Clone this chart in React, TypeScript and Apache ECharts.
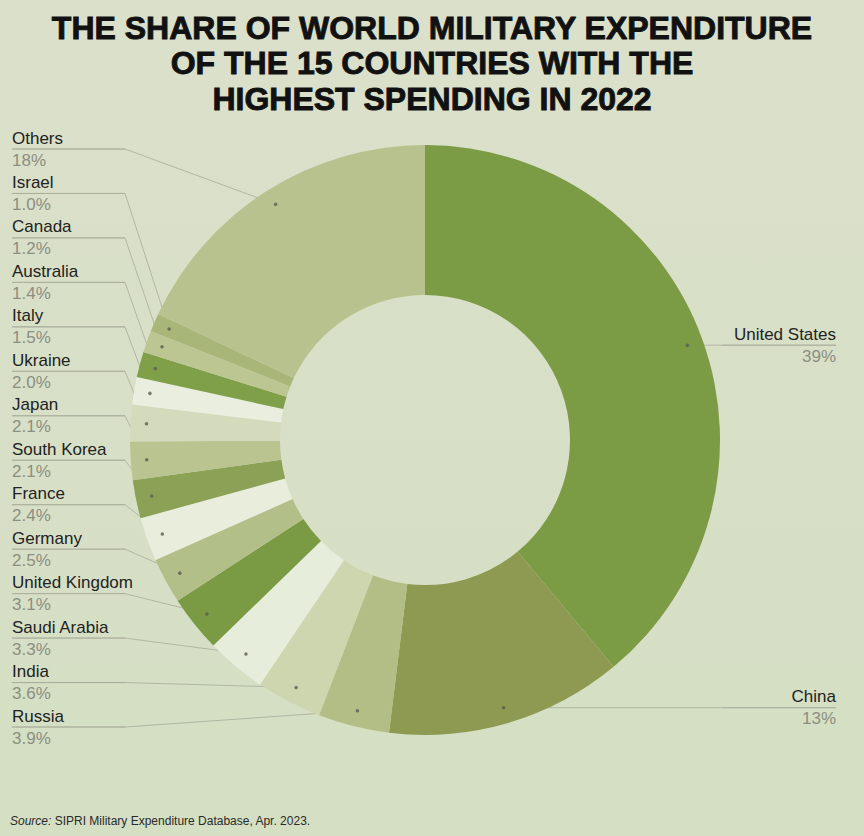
import React, { useEffect, useRef } from "react";
import * as echarts from "echarts";

const countries = [
  "United States", "China", "Russia", "India", "Saudi Arabia", "United Kingdom",
  "Germany", "France", "South Korea", "Japan", "Ukraine", "Italy", "Australia",
  "Canada", "Israel", "Others",
];
const shares = [39, 13, 3.9, 3.6, 3.3, 3.1, 2.5, 2.4, 2.1, 2.1, 2.0, 1.5, 1.4, 1.2, 1.0, 18];
const shareLabels = [
  "39%", "13%", "3.9%", "3.6%", "3.3%", "3.1%", "2.5%", "2.4%", "2.1%", "2.1%",
  "2.0%", "1.5%", "1.4%", "1.2%", "1.0%", "18%",
];
const sliceColors = [
  "#7b9b45", "#8e9a51", "#b2be86", "#cdd6af", "#e7eddb", "#7a9a44", "#b3bf88",
  "#e8eddc", "#8ba155", "#b9c490", "#d4dbbd", "#e9eedf", "#7fa048", "#bcc693",
  "#a9b67a", "#b7c28e",
];
const titleLines = [
  "THE SHARE OF WORLD MILITARY EXPENDITURE",
  "OF THE 15 COUNTRIES WITH THE",
  "HIGHEST SPENDING IN 2022",
];

const CX = 425;
const CY = 440;
const R_IN = 145;
const R_OUT = 295;
const DOT_R = 279;
const LABEL_W = 113;
const LEFT_X = 12;
const RIGHT_X = 836;
const LEFT_TOP = 149;
const LEFT_BOTTOM = 727;
const FONT = "'Liberation Sans', Arial, sans-serif";

export default function App() {
  const ref = useRef<HTMLDivElement>(null);
  useEffect(() => {
    if (!ref.current) return;
    const chart = echarts.init(ref.current, null, { renderer: "svg" });
    const total = shares.reduce((a, b) => a + b, 0);
    const mids: number[] = [];
    let acc = 0;
    shares.forEach((v) => {
      mids.push(acc + v / 2);
      acc += v;
    });
    const dotPos = (i: number) => {
      const th = (mids[i] / total) * Math.PI * 2;
      return [CX + DOT_R * Math.sin(th), CY - DOT_R * Math.cos(th)];
    };
    const nLeft = countries.length - 2;
    const step = (LEFT_BOTTOM - LEFT_TOP) / (nLeft - 1);

    chart.setOption({
      animation: false,
      backgroundColor: {
        type: "linear", x: 0, y: 0, x2: 0, y2: 1,
        colorStops: [
          { offset: 0, color: "#dbe0ca" },
          { offset: 1, color: "#d4dfc3" },
        ],
      },
      title: {
        text: titleLines.join("\n"),
        left: "center",
        top: 5,
        textStyle: {
          fontFamily: FONT,
          fontSize: 32,
          fontWeight: 900,
          lineHeight: 35.5,
          color: "#111111",
          textBorderColor: "#111111",
          textBorderWidth: 0.9,
        },
      },
      polar: { center: [CX, CY], radius: [0, R_OUT] },
      angleAxis: {
        type: "value", min: 0, max: total, startAngle: 90, clockwise: true, show: false,
      },
      radiusAxis: { type: "value", min: 0, max: R_OUT, show: false },
      graphic: [
        {
          type: "text",
          left: 10,
          top: 815,
          style: {
            text: "{i|Source:} SIPRI Military Expenditure Database, Apr. 2023.",
            rich: {
              i: { fontStyle: "italic", fontFamily: FONT, fontSize: 12, fill: "#2a2a2a" },
            },
            fontFamily: FONT,
            fontSize: 12,
            fill: "#2a2a2a",
          },
        },
      ],
      series: [
        {
          type: "pie",
          center: [CX, CY],
          radius: [R_IN, R_OUT],
          startAngle: 90,
          clockwise: true,
          silent: true,
          avoidLabelOverlap: false,
          emphasis: { disabled: true },
          data: countries.map((name, i) => ({
            name,
            value: shares[i],
            itemStyle: { color: sliceColors[i] },
          })),
          label: {
            show: true,
            position: "outside",
            width: LABEL_W,
            overflow: "none",
            formatter: (p: any) => {
              const i = p.dataIndex;
              if (i < 2) return `{nr|${countries[i]}}\n{hr|}\n{pr|${shareLabels[i]}}`;
              return `{n|${countries[i]}}\n{hr|}\n{p|${shareLabels[i]}}`;
            },
            rich: {
              n: { fontFamily: FONT, fontSize: 17, color: "#222222", lineHeight: 22, align: "left" },
              p: { fontFamily: FONT, fontSize: 17, color: "#8c8e83", lineHeight: 22, align: "left" },
              nr: { fontFamily: FONT, fontSize: 17, color: "#222222", lineHeight: 22, align: "right" },
              pr: { fontFamily: FONT, fontSize: 17, color: "#8c8e83", lineHeight: 22, align: "right" },
              hr: { width: "100%", height: 0, lineHeight: 0, borderWidth: 0.8, borderColor: "#a8ac9a" },
            },
          },
          labelLine: {
            show: true,
            lineStyle: { color: "#a8ac9a", width: 0.8 },
          },
          labelLayout: (params: any) => {
            const i = params.dataIndex;
            const d = dotPos(i);
            if (i < 2) {
              const y = d[1];
              const endX = RIGHT_X - LABEL_W;
              return {
                x: RIGHT_X,
                y,
                align: "right",
                verticalAlign: "middle",
                labelLinePoints: [[d[0], d[1]], [endX, y], [endX, y]],
              };
            }
            const y = LEFT_BOTTOM - (i - 2) * step;
            const endX = LEFT_X + LABEL_W;
            return {
              x: LEFT_X,
              y,
              align: "left",
              verticalAlign: "middle",
              labelLinePoints: [[d[0], d[1]], [endX, y], [endX, y]],
            };
          },
        },
        {
          type: "scatter",
          coordinateSystem: "polar",
          silent: true,
          symbolSize: 3.5,
          z: 5,
          itemStyle: { color: "#5b5d50" },
          data: mids.map((m) => [DOT_R, m]),
        },
      ],
    });
    return () => chart.dispose();
  }, []);
  return (
    <div
      ref={ref}
      style={{ position: "fixed", left: 0, top: 0, width: 864, height: 836 }}
    />
  );
}
